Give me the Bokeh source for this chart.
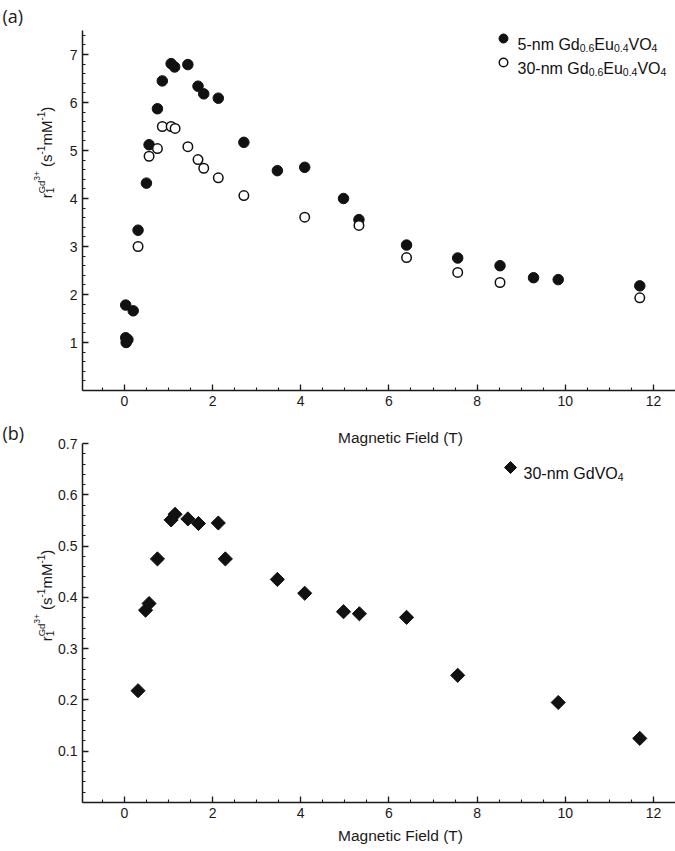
from math import pi
from bokeh.plotting import figure
from bokeh.models import Label, FixedTicker, Range1d
from bokeh.layouts import column
from bokeh.embed import file_html
from bokeh.resources import INLINE

# ---------------- data ----------------
field_5nm = [0.03, 0.08, 0.04, 0.03, 0.20, 0.31, 0.50, 0.56, 0.75, 0.86, 1.06, 1.14,
             1.44, 1.67, 1.80, 2.13, 2.71, 3.47, 4.09, 4.97, 5.32, 6.40, 7.56, 8.52,
             9.28, 9.84, 11.69]
r1_5nm = [1.10, 1.06, 1.00, 1.78, 1.66, 3.34, 4.32, 5.12, 5.87, 6.45, 6.81, 6.74,
          6.79, 6.34, 6.18, 6.09, 5.17, 4.58, 4.65, 4.00, 3.56, 3.03, 2.76, 2.60,
          2.35, 2.31, 2.18]

field_30nm = [0.31, 0.56, 0.75, 0.86, 1.06, 1.15, 1.44, 1.67, 1.80, 2.13, 2.71, 4.09,
              5.32, 6.40, 7.56, 8.52, 11.69]
r1_30nm = [3.00, 4.88, 5.04, 5.50, 5.50, 5.46, 5.08, 4.81, 4.63, 4.43, 4.06, 3.61,
           3.44, 2.77, 2.46, 2.25, 1.93]

field_gdvo4 = [0.31, 0.48, 0.56, 0.75, 1.06, 1.15, 1.44, 1.68, 2.13, 2.29, 3.47, 4.09,
               4.97, 5.33, 6.40, 7.56, 9.84, 11.69]
r1_gdvo4 = [0.218, 0.375, 0.388, 0.475, 0.551, 0.562, 0.553, 0.544, 0.545, 0.475, 0.435,
            0.408, 0.372, 0.368, 0.361, 0.248, 0.195, 0.125]

x_ticks = [0, 2, 4, 6, 8, 10, 12]
y_ticks_a = [1, 2, 3, 4, 5, 6, 7]
y_ticks_b = [0.1, 0.2, 0.3, 0.4, 0.5, 0.6, 0.7]

FONT = "Liberation Sans"
INK = "#111111"
AX = "#1a1a1a"

# Arial/Liberation Sans advance widths (em)
W = {'0': .556, '1': .556, '2': .556, '3': .556, '4': .556, '5': .556, '6': .556,
     '7': .556, '8': .556, '9': .556, '.': .278, '-': .333, 'n': .556, 'm': .833,
     ' ': .278, 'G': .778, 'd': .556, 'E': .667, 'u': .556, 'V': .667, 'O': .778,
     'r': .333, '(': .333, ')': .333, 's': .5, 'M': .833, '+': .584}


def tw(s, size):
    return sum(W.get(c, .556) for c in s) * size


# Page layout (pixels): axes x 82..675; panel a y 30..390; panel b y 443..802
XMIN, XMAX = -0.95, 12.5
AX0, AX1 = 82, 675
PW = 675
H1, H2 = 420, 428           # figure heights (panel b starts at page y 420)
KX = (XMAX - XMIN) / (AX1 - AX0)
KA = 7.5 / 360
KB = 0.7 / 359


def X(px):
    return XMIN + (px - AX0) * KX


def Ya(py):
    return 7.5 - (py - 30) * KA


def Yb(py):
    return 0.7 - (py - 443) * KB


def make(h, y_lo, y_hi):
    p = figure(width=PW, height=h, x_range=Range1d(X(0), X(PW)), y_range=Range1d(y_lo, y_hi),
               output_backend="svg", toolbar_location=None,
               min_border_left=0, min_border_right=0, min_border_top=0, min_border_bottom=0)
    p.grid.visible = False
    p.outline_line_color = None
    p.background_fill_color = "white"
    return p


def style(p, yt, yminor, ytop):
    p.xaxis.ticker = FixedTicker(ticks=x_ticks, minor_ticks=[-0.5 + 0.5 * i for i in range(27)])
    p.yaxis.ticker = FixedTicker(ticks=yt, minor_ticks=yminor)
    p.xaxis.fixed_location = 0
    p.yaxis.fixed_location = XMIN
    p.xaxis.bounds = (XMIN, XMAX)
    p.yaxis.bounds = (0, ytop)
    for ax in (p.xaxis[0], p.yaxis[0]):
        ax.axis_line_color = AX
        ax.axis_line_width = 1.5
        ax.major_tick_line_color = AX
        ax.minor_tick_line_color = AX
        ax.major_tick_line_width = 1.3
        ax.minor_tick_line_width = 1.1
        ax.major_tick_in = 6
        ax.major_tick_out = 0
        ax.minor_tick_in = 3
        ax.minor_tick_out = 0
        ax.major_label_text_font = FONT
        ax.major_label_text_font_size = "14px"
        ax.major_label_text_color = AX
    p.xaxis.major_label_standoff = 5
    p.yaxis.major_label_standoff = 5


def lab(p, x, y, text, size, font=FONT, **kw):
    p.add_layout(Label(x=x, y=y, text=text, text_font=font, text_font_size=f"{size}px",
                       text_color=kw.pop("color", INK), **kw))


def hpieces(p, x0, ybase, pieces, Yf):
    x = x0
    for txt, size, dy in pieces:
        lab(p, X(x), Yf(ybase + dy), txt, size, text_align="left", text_baseline="alphabetic")
        x += tw(txt, size)


def vpieces(p, xbase, y0, pieces, Yf):
    # rotated label built from pieces; adv: True -> advance by text width, number -> px gap
    y = y0
    for txt, size, dx, adv in pieces:
        if txt:
            lab(p, X(xbase + dx), Yf(y), txt, size, angle=pi / 2, text_align="left",
                text_baseline="alphabetic", color=AX)
        if adv is True:
            y -= tw(txt, size)
        elif adv:
            y -= adv


ylab_pieces = [("r", 15, 0, True), ("1", 10, 3, False), ("Gd", 9.5, -5.5, True),
               ("3+", 8.5, -9.5, True), ("", 15, 0, 4), ("(", 15, 0, True),
               ("s", 15, 0, True), ("-1", 10, -5.5, True), ("mM", 15, 0, True),
               ("-1", 10, -5.5, True), (")", 15, 0, True)]
ylab_len = sum((tw(t, s) if a is True else (a or 0)) for t, s, d, a in ylab_pieces)

# ---------------- panel (a) ----------------
p1 = make(H1, Ya(H1), Ya(0))
style(p1, y_ticks_a, [round(0.2 * i, 1) for i in range(38)], 7.5)
p1.scatter(field_5nm, r1_5nm, size=10.5, marker="circle", fill_color=INK, line_color=INK)
p1.scatter(field_30nm, r1_30nm, size=9.5, marker="circle", fill_color="white",
           line_color=INK, line_width=1.5)

# legend (a)
p1.scatter([X(503)], [Ya(38)], size=9, marker="circle", fill_color=INK, line_color=INK)
p1.scatter([X(503)], [Ya(62)], size=8.5, marker="circle", fill_color="white",
           line_color=INK, line_width=1.5)
leg = [("Gd", 16, 0), ("0.6", 10.5, 3.5), ("Eu", 16, 0), ("0.4", 10.5, 3.5),
       ("VO", 16, 0), ("4", 10.5, 3.5)]
hpieces(p1, 517, 43.5, [("5-nm ", 16, 0)] + leg, Ya)
hpieces(p1, 517, 67.5, [("30-nm ", 16, 0)] + leg, Ya)

vpieces(p1, 46, 152 + ylab_len / 2, ylab_pieces, Ya)
lab(p1, X(2), Ya(3), "(a)", 18, font="Open Sans", text_align="left", text_baseline="top",
    color=AX)

# ---------------- panel (b) ----------------
p2 = make(H2, Yb(H1 + H2), Yb(H1))
style(p2, y_ticks_b, [round(0.02 * i, 2) for i in range(35)], 0.7)
p2.yaxis.major_label_overrides = {t: f"{t:.1f}" for t in y_ticks_b}
p2.scatter(field_gdvo4, r1_gdvo4, size=10, marker="square", angle=pi / 4,
           fill_color=INK, line_color=INK)

p2.scatter([X(510)], [Yb(467)], size=8.5, marker="square", angle=pi / 4,
           fill_color=INK, line_color=INK)
hpieces(p2, 523, 472.5, [("30-nm GdVO", 16, 0), ("4", 10.5, 3.5)], Yb)

vpieces(p2, 46, 595 + ylab_len / 2, ylab_pieces, Yb)
lab(p2, X(400), Yb(437), "Magnetic Field (T)", 15.5, text_align="center",
    text_baseline="middle", color=AX)
lab(p2, X(400), Yb(835), "Magnetic Field (T)", 15.5, text_align="center",
    text_baseline="middle", color=AX)
lab(p2, X(2), Yb(432), "(b)", 18, font="Open Sans", text_align="left",
    text_baseline="middle", color=AX)

layout = column(p1, p2, spacing=0)
open("out.html", "w").write(file_html(layout, INLINE))
